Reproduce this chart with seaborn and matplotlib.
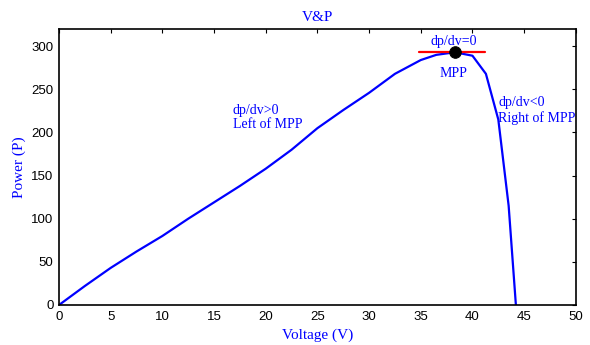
import matplotlib
matplotlib.use("Agg")
import matplotlib.pyplot as plt
import seaborn as sns
import pandas as pd

voltage = [0, 2.5, 5, 7.5, 10, 12.5, 15, 17.5, 20, 22.5, 25, 27.5, 30, 32.5, 35, 36.5, 38.3, 40, 41.3, 42.5, 43.5, 44.2]
power = [0, 22, 43, 62, 80, 100, 119, 138, 158, 180, 205, 226, 246, 268, 284, 290, 293, 289, 268, 215, 115, 0]
mpp_v = 38.3
mpp_p = 293
tangent_v = [34.8, 41.2]
x_ticks = [0, 5, 10, 15, 20, 25, 30, 35, 40, 45, 50]
y_ticks = [0, 50, 100, 150, 200, 250, 300]

sns.set_style("white")
serif = ["Liberation Serif", "DejaVu Serif"]
plt.rcParams["font.family"] = ["Liberation Sans", "DejaVu Sans"]

fig = plt.figure(figsize=(5.9, 3.45), dpi=100)
ax = fig.add_axes([0.1, 0.116, 0.876, 0.8])

df = pd.DataFrame({"V": voltage, "P": power})
sns.lineplot(data=df, x="V", y="P", ax=ax, color="#0000ff", linewidth=1.6, sort=False)
sns.lineplot(x=tangent_v, y=[mpp_p, mpp_p], ax=ax, color="#ff0000", linewidth=1.6)
sns.scatterplot(x=[mpp_v], y=[mpp_p], ax=ax, color="black", s=70, zorder=5, edgecolor="black")

ax.set_xlim(0, 50)
ax.set_ylim(0, 320)
ax.set_xticks(x_ticks)
ax.set_yticks(y_ticks)
ax.tick_params(direction="in", top=True, right=True, length=3, width=0.8, labelsize=9.5, pad=4, colors="black")
for s in ax.spines.values():
    s.set_visible(True)
    s.set_color("black")
    s.set_linewidth(1.2)

ax.set_title("V&P", color="#0000ff", family=serif, fontsize=11, pad=6)
ax.set_xlabel("Voltage (V)", color="#0000ff", family=serif, fontsize=11, labelpad=4)
ax.set_ylabel("Power (P)", color="#0000ff", family=serif, fontsize=11, labelpad=4)

kw = dict(color="#0000ff", family=serif, fontsize=10)
ax.text(38.2, 306, "dp/dv=0", ha="center", va="center", **kw)
ax.text(38.2, 268, "MPP", ha="center", va="center", **kw)
ax.text(42.5, 235, "dp/dv<0", ha="left", va="center", **kw)
ax.text(42.5, 217, "Right of MPP", ha="left", va="center", **kw)
ax.text(16.8, 226, "dp/dv>0", ha="left", va="center", **kw)
ax.text(16.8, 209, "Left of MPP", ha="left", va="center", **kw)

fig.savefig("out.png", dpi=100)
